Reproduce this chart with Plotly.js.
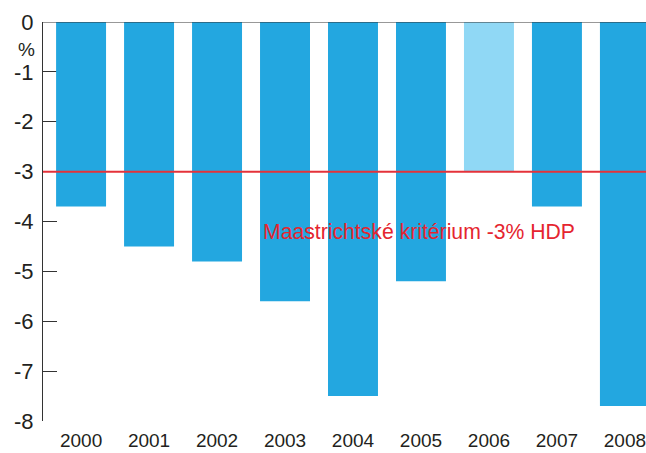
<!DOCTYPE html>
<html>
<head>
<meta charset="utf-8">
<script src="https://cdn.plot.ly/plotly-3.0.1.min.js"></script>
<style>html,body{margin:0;padding:0;background:#fff;}#chart{width:646px;height:453px;}</style>
</head>
<body>
<div id="chart"></div>
<script>
var years = ['2000','2001','2002','2003','2004','2005','2006','2007','2008'];
var deficit = [-3.7, -4.5, -4.8, -5.6, -7.5, -5.2, -3.0, -3.7, -7.7];
var highlightYear = '2006';
var criterion = -3;
var criterionLabel = 'Maastrichtské kritérium -3% HDP';
var unitLabel = '%';
var yTicks = [0, -1, -2, -3, -4, -5, -6, -7, -8];

var barColor = '#23a7e0';
var lightColor = '#90d8f5';
var colors = years.map(function(y){ return y === highlightYear ? lightColor : barColor; });

var trace = {
  type: 'bar',
  x: years,
  y: deficit,
  marker: {color: colors, line: {width: 0}},
  hoverinfo: 'x+y'
};

var layout = {
  width: 646, height: 453,
  margin: {l: 43, r: 0, t: 22, b: 32},
  paper_bgcolor: '#fff', plot_bgcolor: '#fff',
  showlegend: false,
  bargap: 0.265,
  font: {family: 'Liberation Sans, Arial, sans-serif', color: '#231f20'},
  xaxis: {
    type: 'category',
    range: [-0.56, 8.31],
    showline: false, showgrid: false, zeroline: false,
    ticks: '',
    tickfont: {size: 19, color: '#231f20'},
    ticklabelstandoff: 6
  },
  yaxis: {
    range: [-8, 0],
    tickvals: yTicks,
    ticktext: yTicks.map(String),
    showline: true, linecolor: '#333', linewidth: 1,
    showgrid: false, zeroline: false,
    ticks: 'inside', ticklen: 14, tickcolor: '#333', tickwidth: 1,
    tickfont: {size: 22, color: '#231f20'},
    ticklabelstandoff: 4,
    layer: 'below traces'
  },
  shapes: [
    {type: 'line', xref: 'paper', yref: 'y', x0: 0, x1: 1, y0: 0, y1: 0,
     line: {color: '#333', width: 1}, layer: 'above'},
    {type: 'line', xref: 'paper', yref: 'y', x0: 0, x1: 1, y0: criterion, y1: criterion,
     line: {color: '#e5323a', width: 2}, layer: 'above'}
  ],
  annotations: [
    {text: criterionLabel, xref: 'x', yref: 'y', x: 4.97, y: -4.2,
     showarrow: false, font: {size: 21.2, color: '#e5252f'}},
    {text: unitLabel, xref: 'paper', yref: 'paper', x: -0.028, y: 0.93,
     xanchor: 'center', yanchor: 'middle', showarrow: false,
     font: {size: 19, color: '#231f20'}}
  ]
};

Plotly.newPlot('chart', [trace], layout, {displayModeBar: false, staticPlot: true});
</script>
</body>
</html>
